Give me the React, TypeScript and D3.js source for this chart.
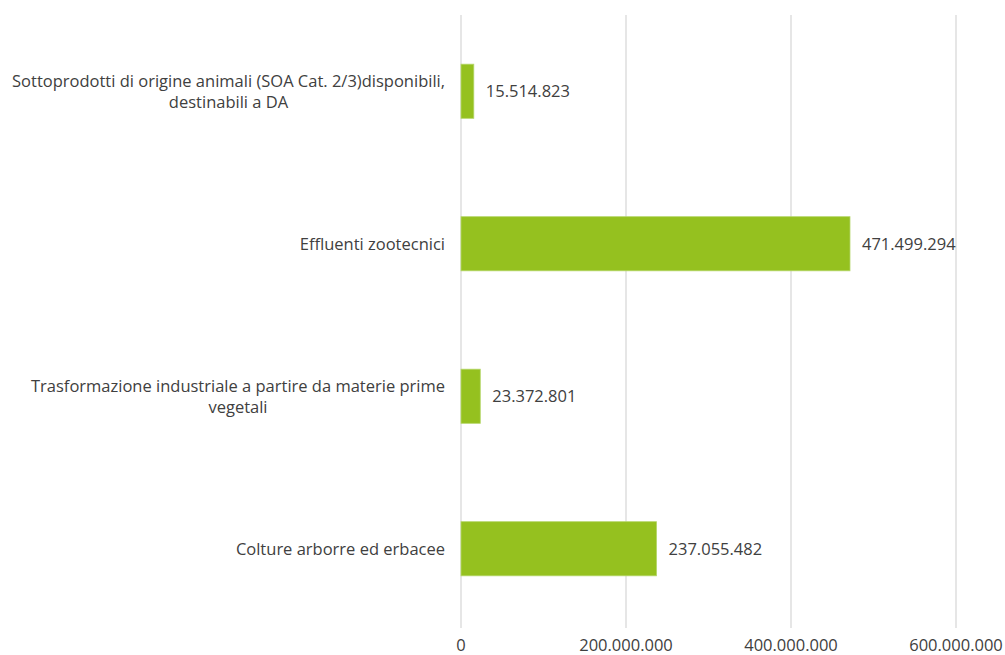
import React, { useEffect, useRef } from "react";
import * as d3 from "d3";

const categories: string[][] = [
  ["Sottoprodotti di origine animali (SOA Cat. 2/3)disponibili,", "destinabili a DA"],
  ["Effluenti zootecnici"],
  ["Trasformazione industriale a partire da materie prime", "vegetali"],
  ["Colture arborre ed erbacee"],
];
const values: number[] = [15514823, 471499294, 23372801, 237055482];
const ticks: number[] = [0, 200000000, 400000000, 600000000];

const W = 1005;
const H = 655;
const M = { left: 461, right: 49, top: 15, bottom: 30 };
const FONT = "'Open Sans', sans-serif";
const TEXT = "#404040";
const FS = 16.5;

const fmt = (v: number) => d3.format(",")(v).replace(/,/g, ".");

export default function App() {
  const ref = useRef<SVGSVGElement>(null);
  useEffect(() => {
    const svg = d3.select(ref.current!);
    svg.selectAll("*").remove();
    const x = d3.scaleLinear().domain([0, 600000000]).range([M.left, W - M.right]);
    const y = d3
      .scaleBand<number>()
      .domain(values.map((_, i) => i))
      .range([M.top, H - M.bottom])
      .paddingInner(0.645)
      .paddingOuter(0.3225);

    svg
      .append("g")
      .selectAll("line")
      .data(ticks)
      .join("line")
      .attr("x1", (d) => x(d))
      .attr("x2", (d) => x(d))
      .attr("y1", M.top)
      .attr("y2", H - M.bottom + 3)
      .attr("stroke", "#d9d9d9")
      .attr("stroke-width", 1.3);

    svg
      .append("g")
      .selectAll("rect")
      .data(values)
      .join("rect")
      .attr("x", x(0))
      .attr("y", (_, i) => y(i)!)
      .attr("width", (d) => x(d) - x(0))
      .attr("height", y.bandwidth())
      .attr("fill", "#95c11f")
      .attr("stroke", "#b5d66a")
      .attr("stroke-width", 0.8);

    svg
      .append("g")
      .selectAll("text")
      .data(values)
      .join("text")
      .attr("x", (d) => x(d) + 12)
      .attr("y", (_, i) => y(i)! + y.bandwidth() / 2)
      .attr("dy", "0.35em")
      .attr("font-family", FONT)
      .attr("font-size", FS)
      .attr("fill", TEXT)
      .text((d) => fmt(d));

    svg
      .append("g")
      .selectAll("text")
      .data(ticks)
      .join("text")
      .attr("x", (d) => x(d))
      .attr("y", H - 4)
      .attr("text-anchor", "middle")
      .attr("font-family", FONT)
      .attr("font-size", FS)
      .attr("fill", TEXT)
      .text((d) => fmt(d));

    const labelRight = 445;
    const lh = 21;
    categories.forEach((lines, i) => {
      const cy = y(i)! + y.bandwidth() / 2;
      const g = svg.append("g");
      const first = g
        .append("text")
        .attr("font-family", FONT)
        .attr("font-size", FS)
        .attr("fill", TEXT)
        .text(lines[0]);
      const w = (first.node() as SVGTextElement).getComputedTextLength();
      const center = labelRight - w / 2;
      const y0 = cy - ((lines.length - 1) * lh) / 2;
      first.attr("x", center).attr("y", y0).attr("dy", "0.35em").attr("text-anchor", "middle");
      lines.slice(1).forEach((l, j) => {
        g.append("text")
          .attr("x", center)
          .attr("y", y0 + (j + 1) * lh)
          .attr("dy", "0.35em")
          .attr("text-anchor", "middle")
          .attr("font-family", FONT)
          .attr("font-size", FS)
          .attr("fill", TEXT)
          .text(l);
      });
    });
  }, []);
  return (
    <svg
      ref={ref}
      width={W}
      height={H}
      style={{ position: "absolute", left: 0, top: 0, background: "#fff" }}
    />
  );
}
